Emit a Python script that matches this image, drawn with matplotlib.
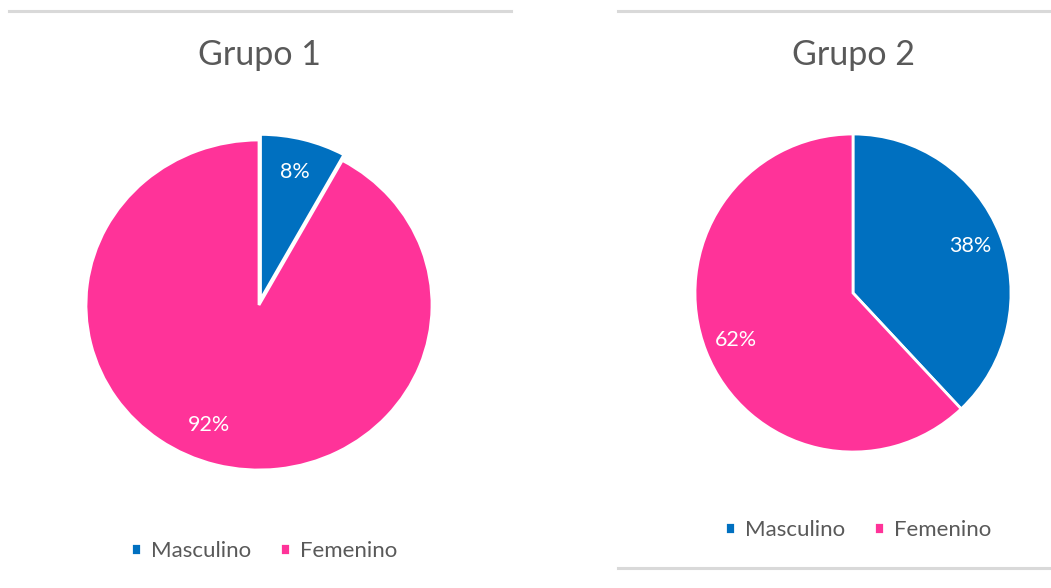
import matplotlib.pyplot as plt
from matplotlib.lines import Line2D

plt.rcParams['font.family'] = ['Lato', 'DejaVu Sans']

categorias = ["Masculino", "Femenino"]
grupo1 = [8, 92]
grupo2 = [38, 62]
titulos = ["Grupo 1", "Grupo 2"]

AZUL = "#0070C0"
ROSA = "#FF3399"
GRIS = "#595959"

W, H = 1051, 588
fig = plt.figure(figsize=(W / 100, H / 100), dpi=100)


def px_axes(cx, cy, rx, ry):
    # caja alrededor del pastel, en pixeles desde arriba-izquierda
    return fig.add_axes([(cx - rx) / W, 1 - (cy + ry) / H, 2 * rx / W, 2 * ry / H])


def pastel(ax, valores, explode):
    wedges, _, autotexts = ax.pie(
        valores, colors=[AZUL, ROSA], startangle=90, counterclock=False,
        explode=explode, autopct="%d%%", pctdistance=0.8,
        wedgeprops=dict(edgecolor="white", linewidth=2),
        textprops=dict(color="white", fontsize=15.5),
    )
    for w in wedges:
        w.set_clip_on(False)
    ax.set_xlim(-1, 1)
    ax.set_ylim(-1, 1)
    ax.set_aspect("auto")  # la imagen original esta algo estirada
    ax.axis("off")
    return wedges, autotexts


def leyenda(handles, cx, cy):
    fig.legend(handles, categorias, loc="center", bbox_to_anchor=(cx / W, 1 - cy / H),
               ncol=2, frameon=False, fontsize=16, labelcolor=GRIS,
               handlelength=0.45, handleheight=0.45, handletextpad=0.45,
               columnspacing=1.3)


# Grupo 1
ax1 = px_axes(259, 305, 173, 165)
w1, t1 = pastel(ax1, grupo1, [0.035, 0])
t1[1].set_position((-0.29, -0.73))
fig.text(259 / W, 1 - 55 / H, titulos[0], ha="center", va="center",
         fontsize=24.5, color=GRIS)
leyenda(w1, 264, 551)

# Grupo 2
ax2 = px_axes(853, 293, 158, 159)
w2, t2 = pastel(ax2, grupo2, [0, 0])
fig.text(853 / W, 1 - 55 / H, titulos[1], ha="center", va="center",
         fontsize=24.5, color=GRIS)
leyenda(w2, 858, 530)

# bordes grises de los recuadros de Excel
for x0, x1, y in [(9, 511, 10.5), (618, 1051, 11), (618, 1051, 568)]:
    fig.add_artist(Line2D([x0 / W, x1 / W], [1 - y / H, 1 - y / H],
                          color="#D9D9D9", linewidth=2.2))

fig.savefig("out.png", dpi=100, facecolor="white")
